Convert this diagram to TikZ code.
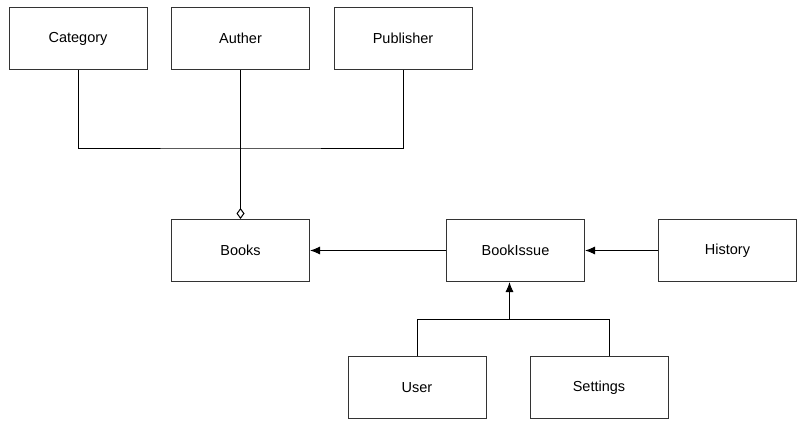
\documentclass[tikz,border=0pt]{standalone}
\usepackage{fontspec}
\setmainfont{Liberation Sans}
\usetikzlibrary{arrows.meta,positioning}
\tikzset{%
	block/.style    = {draw=black!80, rectangle, line width=1pt, minimum width=138pt, minimum height=62pt, font=\fontsize{14.5}{17}\selectfont},
	waypoint/.style = {coordinate},
	link/.style     = {line width=1pt},
	arrow/.style    = {link, -{Latex[length=10pt,width=8pt]}},
	aggr/.style     = {link, -{Diamond[open,length=11pt,width=8pt]}},
}
\begin{document}
\begin{tikzpicture}[x=1pt,y=-1pt]
	\useasboundingbox (0,0) rectangle (802,428);
	% top row
	\node[block] (cat) at (78,38.5) {Category};
	\node[block] (auth) at (240.5,38.5) {Auther};
	\node[block] (pub) at (403,38.5) {Publisher};
	% middle row
	\node[block] (books) at (240.5,250.5) {Books};
	\node[block] (issue) at (515.5,250.5) {BookIssue};
	\node[block] (hist) at (727.5,250.5) {History};
	% bottom row
	\node[block] (user) at (417,387.5) {User};
	\node[block] (set) at (599,387.5) {Settings};
	
	\node[waypoint] (j1) at (240.5,148) {};
	\node[waypoint] (j2) at (509.5,319.5) {};
	\node[waypoint] (j3) at (609,319.5) {};
	
	\draw[link] (cat.south) |- (j1) -| (pub.south);
	\draw[aggr] (auth) -- (books);
	\draw[arrow] (issue) -- (books);
	\draw[arrow] (hist) -- (issue);
	\draw[link] (user.north) |- (j3) -- (j3 |- set.north);
	\draw[arrow] (j2) -- (j2 |- issue.south);
\end{tikzpicture}
\end{document}
